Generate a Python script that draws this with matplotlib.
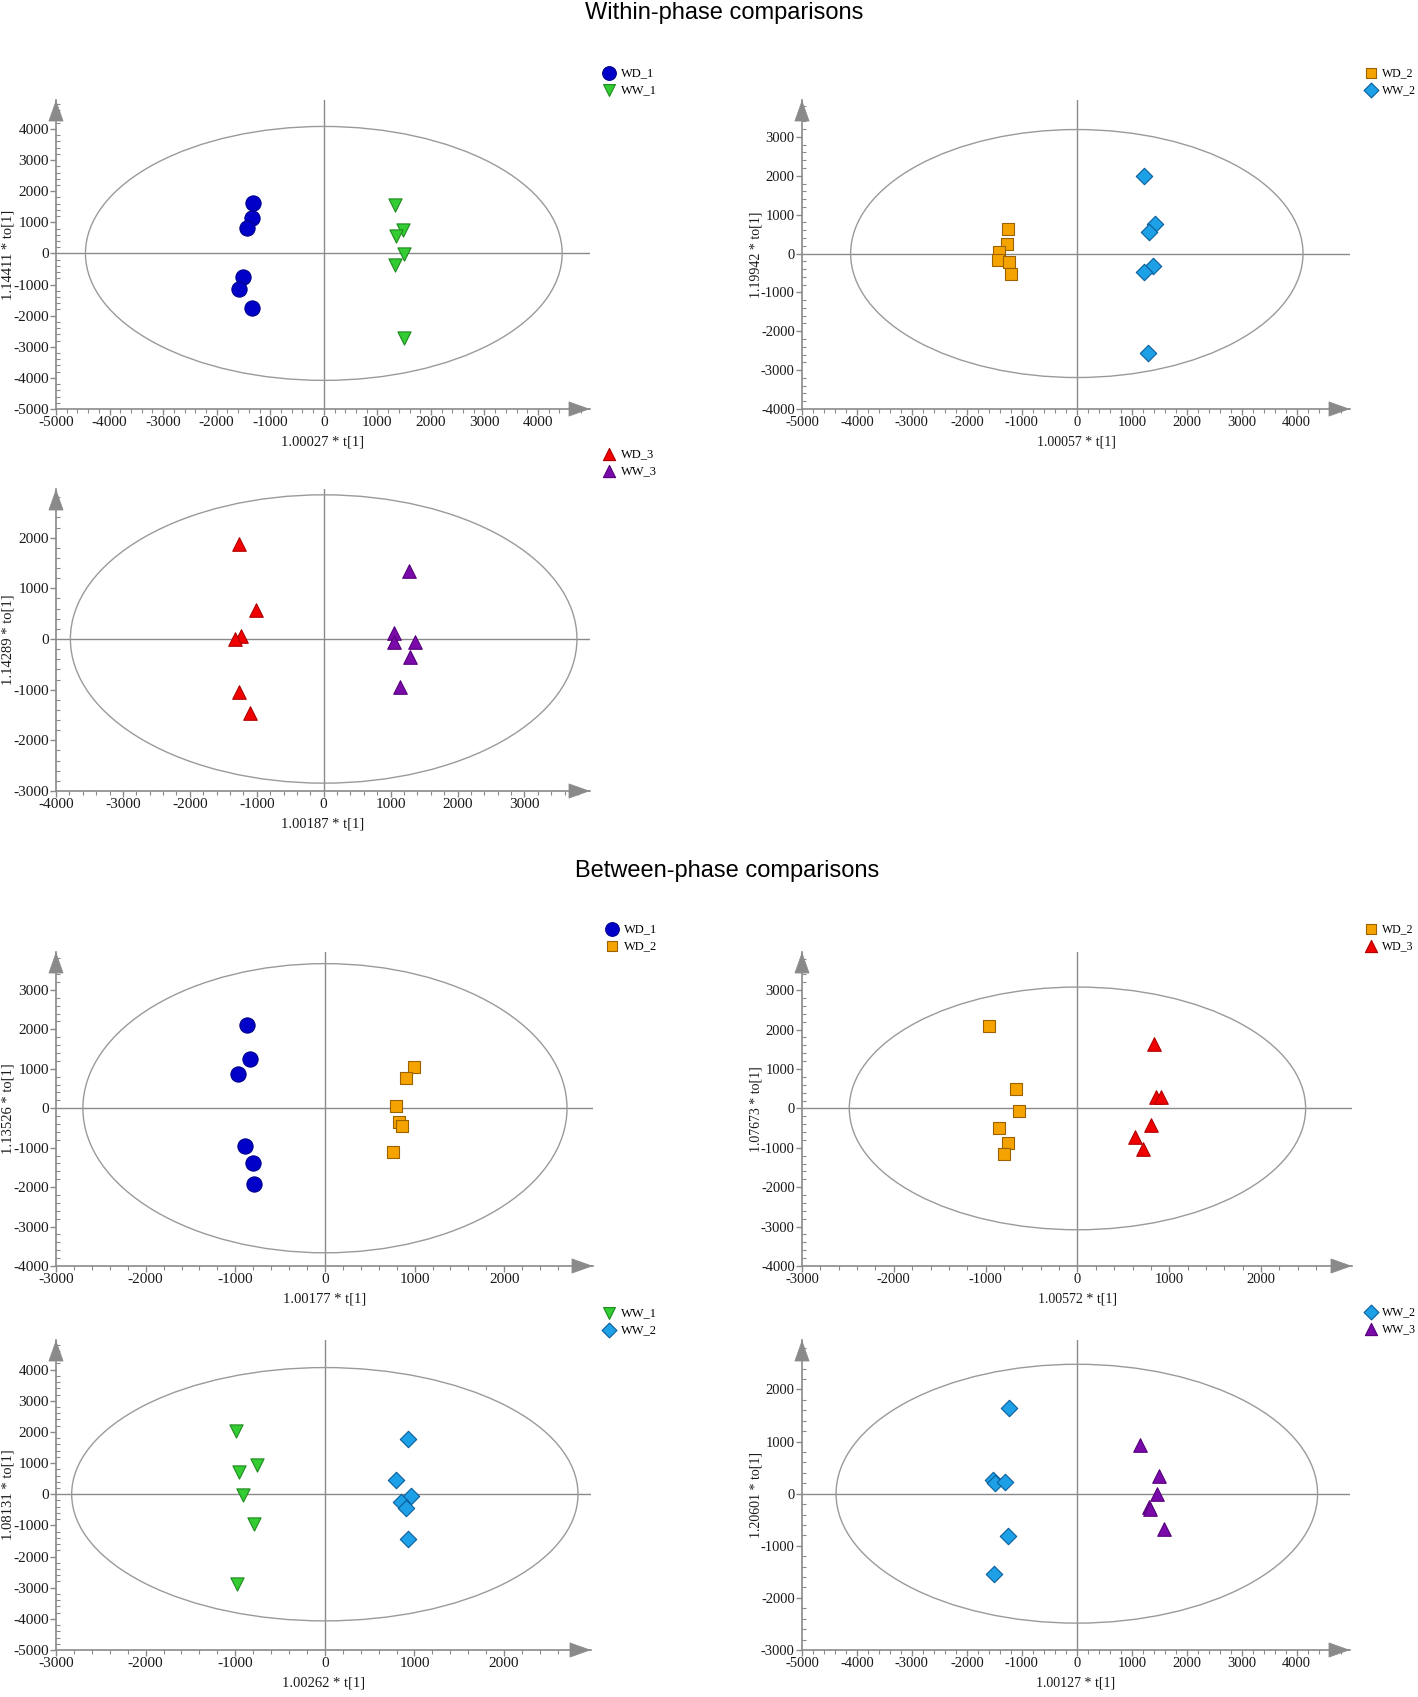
import matplotlib
matplotlib.use("Agg")
import matplotlib.pyplot as plt
from matplotlib.patches import Ellipse
from matplotlib.ticker import MultipleLocator

plt.rcParams['axes.unicode_minus'] = False
plt.rcParams['font.family'] = ['Liberation Serif', 'DejaVu Serif']

# ---------------- data ----------------
# Panel 1: WD_1 vs WW_1
p1_wd1_x = [-1320, -1340, -1427, -1513, -1577, -1340]
p1_wd1_y = [1630, 1130, 828, -774, -1129, -1742]
p1_ww1_x = [1326, 1470, 1348, 1491, 1326, 1491]
p1_ww1_y = [1559, 763, 559, -32, -387, -2731]

# Panel 2: WD_2 vs WW_2
p2_wd2_x = [-1252, -1276, -1417, -1441, -1228, -1205]
p2_wd2_y = [635, 240, 34, -172, -223, -524]
p2_ww2_x = [1228, 1425, 1315, 1378, 1228, 1291]
p2_ww2_y = [1983, 764, 549, -318, -464, -2558]

# Panel 3: WD_3 vs WW_3
p3_wd3_x = [-1263, -1004, -1240, -1326, -1263, -1108]
p3_wd3_y = [1884, 574, 58, 6, -1039, -1458]
p3_ww3_x = [1268, 1056, 1056, 1360, 1297, 1148]
p3_ww3_y = [1348, 123, -58, -52, -355, -948]

# Panel 4: WD_1 vs WD_2
p4_wd1_x = [-866, -840, -969, -892, -806, -793]
p4_wd1_y = [2098, 1255, 868, -963, -1393, -1917]
p4_wd2_x = [990, 904, 789, 827, 862, 759]
p4_wd2_y = [1049, 765, 60, -344, -456, -1100]

# Panel 5: WD_2 vs WD_3
p5_wd2_x = [-962, -671, -638, -850, -761, -798]
p5_wd2_y = [2103, 498, -77, -489, -867, -1159]
p5_wd3_x = [831, 854, 906, 803, 629, 709]
p5_wd3_y = [1640, 300, 283, -420, -730, -1021]

# Panel 6: WW_1 vs WW_2
p6_ww1_x = [-994, -753, -955, -908, -796, -981]
p6_ww1_y = [2043, 925, 699, -22, -968, -2871]
p6_ww2_x = [925, 796, 959, 852, 903, 925]
p6_ww2_y = [1763, 441, -65, -237, -441, -1441]

# Panel 7: WW_2 vs WW_3
p7_ww2_x = [-1228, -1528, -1480, -1315, -1252, -1512]
p7_ww2_y = [1645, 271, 206, 226, -806, -1548]
p7_ww3_x = [1142, 1504, 1465, 1315, 1331, 1583]
p7_ww3_y = [935, 342, 0, -252, -290, -677]

x_labels = ["1.00027 * t[1]", "1.00057 * t[1]", "1.00187 * t[1]",
            "1.00177 * t[1]", "1.00572 * t[1]", "1.00262 * t[1]", "1.00127 * t[1]"]
y_labels = ["1.14411 * to[1]", "1.19942 * to[1]", "1.14289 * to[1]",
            "1.13526 * to[1]", "1.07673 * to[1]", "1.08131 * to[1]", "1.20601 * to[1]"]

# Hotelling ellipse semi-axes (x, y)
ell_a = [4450, 4115, 3785, 2700, 2485, 2825, 4380]
ell_b = [4080, 3190, 2845, 3665, 3080, 4065, 2484]

# axis ranges
x_min = [-5000, -5000, -4000, -3000, -3000, -3000, -5000]
x_max = [4970, 4970, 3980, 2990, 2990, 2970, 4970]
y_min = [-5000, -4000, -3000, -4000, -4000, -5000, -3000]
y_max = [4930, 3950, 2960, 3960, 3970, 4950, 2950]

# group styles
styles = {
    "WD_1": dict(marker="o", color="#0000C8", edge="#00008C", s=120),
    "WW_1": dict(marker="v", color="#33CC33", edge="#1E8A1E", s=90),
    "WD_2": dict(marker="s", color="#F5A300", edge="#9A6200", s=75),
    "WW_2": dict(marker="D", color="#1EA0E6", edge="#0A5E9C", s=70),
    "WD_3": dict(marker="^", color="#F00000", edge="#B00000", s=95),
    "WW_3": dict(marker="^", color="#7A0AAA", edge="#55007A", s=95),
}

panels = [
    [("WD_1", p1_wd1_x, p1_wd1_y), ("WW_1", p1_ww1_x, p1_ww1_y)],
    [("WD_2", p2_wd2_x, p2_wd2_y), ("WW_2", p2_ww2_x, p2_ww2_y)],
    [("WD_3", p3_wd3_x, p3_wd3_y), ("WW_3", p3_ww3_x, p3_ww3_y)],
    [("WD_1", p4_wd1_x, p4_wd1_y), ("WD_2", p4_wd2_x, p4_wd2_y)],
    [("WD_2", p5_wd2_x, p5_wd2_y), ("WD_3", p5_wd3_x, p5_wd3_y)],
    [("WW_1", p6_ww1_x, p6_ww1_y), ("WW_2", p6_ww2_x, p6_ww2_y)],
    [("WW_2", p7_ww2_x, p7_ww2_y), ("WW_3", p7_ww3_x, p7_ww3_y)],
]

# ---------------- layout (pixels) ----------------
W, H = 1418, 1697
# left, right, top, bottom of axes in pixels
boxes = [
    (56, 590, 100, 409),
    (802, 1350, 100, 409),
    (56, 590, 489, 791),
    (56, 593, 952, 1266),
    (802, 1352, 952, 1266),
    (56, 591, 1340, 1650),
    (802, 1350, 1340, 1650),
]
right_col = [False, True, False, False, True, False, True]
legend_pos = [(603, 67), (1365, 67), (603, 448), (606, 923), (1365, 923), (603, 1307), (1365, 1306)]
ylabel_px = [8, 756, 8, 8, 756, 8, 756]

GRAY = "#8a8a8a"
TXT = "#1a1a1a"
fig = plt.figure(figsize=(W / 100, H / 100), dpi=100)

for i, (box, groups) in enumerate(zip(boxes, panels)):
    l, r, t, b = box
    w, h = r - l, b - t
    rc = right_col[i]
    tick_fs = 10.5 if rc else 11.0
    lab_fs = 10.0 if rc else 10.5
    leg_fs = 8.5 if rc else 9.0

    ax = fig.add_axes([l / W, 1 - b / H, w / W, h / H])
    ax.set_xlim(x_min[i], x_max[i])
    ax.set_ylim(y_min[i], y_max[i])
    for sp in ("top", "right"):
        ax.spines[sp].set_visible(False)
    for sp in ("left", "bottom"):
        ax.spines[sp].set_color(GRAY)
        ax.spines[sp].set_linewidth(1.2)
    ax.axhline(0, color=GRAY, lw=1.0, zorder=1)
    ax.axvline(0, color=GRAY, lw=1.0, zorder=1)
    ax.add_patch(Ellipse((0, 0), 2 * ell_a[i], 2 * ell_b[i], facecolor="none",
                         edgecolor="#9a9a9a", lw=1.0, zorder=1))
    # arrow heads
    ax.annotate("", xy=(1.0, 0), xytext=(0.97, 0), xycoords="axes fraction",
                arrowprops=dict(arrowstyle="-|>,head_length=0.9,head_width=0.32",
                                color=GRAY, lw=0.5, mutation_scale=16,
                                shrinkA=0, shrinkB=0), annotation_clip=False)
    ax.annotate("", xy=(0, 1.0), xytext=(0, 0.96), xycoords="axes fraction",
                arrowprops=dict(arrowstyle="-|>,head_length=0.9,head_width=0.32",
                                color=GRAY, lw=0.5, mutation_scale=16,
                                shrinkA=0, shrinkB=0), annotation_clip=False)

    for name, xs, ys in groups:
        st = styles[name]
        ax.scatter(xs, ys, marker=st["marker"], s=st["s"], c=st["color"],
                   edgecolors=st["edge"], linewidths=0.8, label=name, zorder=3)

    ax.xaxis.set_major_locator(MultipleLocator(1000))
    ax.yaxis.set_major_locator(MultipleLocator(1000))
    ax.xaxis.set_minor_locator(MultipleLocator(200))
    ax.yaxis.set_minor_locator(MultipleLocator(200))
    ax.tick_params(axis="both", which="major", length=4, width=1, color=GRAY,
                   labelsize=tick_fs, labelcolor=TXT, pad=1.2)
    ax.tick_params(axis="x", which="minor", length=3, width=0.8, color=GRAY, direction="out")
    ax.tick_params(axis="y", which="minor", length=3, width=0.8, color=GRAY, direction="in")
    ax.set_xlabel(x_labels[i], fontsize=lab_fs, color=TXT)
    ax.set_ylabel(y_labels[i], fontsize=lab_fs, color=TXT)
    ax.xaxis.set_label_coords(0.5, -33 / h)
    ax.xaxis.label.set_va("center")
    ax.yaxis.set_label_coords((ylabel_px[i] - l) / w, 0.5)
    ax.yaxis.label.set_va("center")
    ax.set_facecolor("none")

    lx, ly = legend_pos[i]
    ax.legend(loc="upper left", bbox_to_anchor=(lx / W, 1 - ly / H),
              bbox_transform=fig.transFigure, frameon=False, fontsize=leg_fs,
              handlelength=1.0, handletextpad=0.45, labelspacing=0.45,
              borderpad=0, borderaxespad=0, scatterpoints=1, markerscale=0.9)

fig.text(724 / W, 1 - 13 / H, "Within-phase comparisons", ha="center", va="center",
         fontsize=17, family=["Liberation Sans", "DejaVu Sans"])
fig.text(727 / W, 1 - 871 / H, "Between-phase comparisons", ha="center", va="center",
         fontsize=17, family=["Liberation Sans", "DejaVu Sans"])

fig.savefig("out.png", dpi=100)
